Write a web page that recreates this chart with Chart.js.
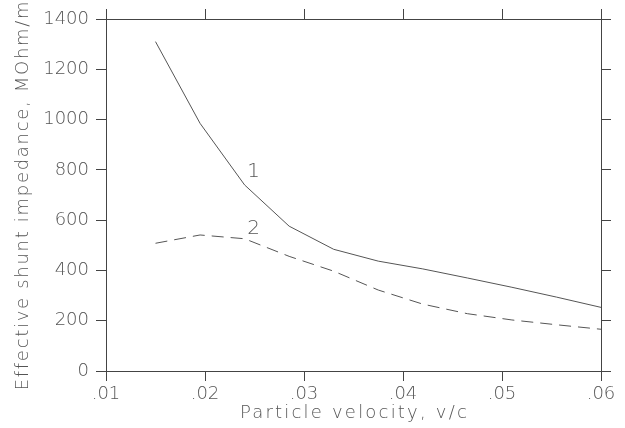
<!DOCTYPE html>
<html>
<head>
<meta charset="utf-8">
<script src="https://cdn.jsdelivr.net/npm/chart.js@4/dist/chart.umd.min.js"></script>
<style>
html,body{margin:0;padding:0;background:#fff;}
#wrap{width:625px;height:428px;position:relative;}
</style>
</head>
<body>
<div id="wrap"><canvas id="c" width="625" height="428"></canvas></div>
<script>
// Data
const velocity = [0.015, 0.0195, 0.024, 0.0285, 0.033, 0.0375, 0.042, 0.0465, 0.051, 0.0555, 0.06];
const curve1 = [1310, 985, 740, 576, 484, 437, 406, 370, 333, 294, 253];
const curve2 = [508, 541, 526, 456, 397, 322, 266, 228, 203, 184, 166];
const curveLabels = ['1', '2'];
const labelX = [0.0249, 0.0249];
const labelY = [792, 564];
const xTicks = [0.01, 0.02, 0.03, 0.04, 0.05, 0.06];
const yTicks = [0, 200, 400, 600, 800, 1000, 1200, 1400];
const xTitle = 'Particle velocity, v/c';
const yTitle = 'Effective shunt impedance, MOhm/m';

const FONT = '"DejaVu Sans", sans-serif';
const TXT = '#555';
const AX = '#444';

function fmtX(v){ return ('' + Math.round(v*100)/100).replace(/^0/, ''); }

const labelPlugin = {
  id: 'curveLabels',
  afterDraw(chart){
    const {ctx, scales, chartArea} = chart;
    ctx.save();
    ctx.fillStyle = TXT;
    ctx.font = '300 20px ' + FONT;
    ctx.textAlign = 'center';
    ctx.textBaseline = 'middle';
    curveLabels.forEach((t,i)=>{
      ctx.fillText(t, scales.x.getPixelForValue(labelX[i]), scales.y.getPixelForValue(labelY[i]));
    });
    // axis titles with wide letter spacing like the reference
    ctx.font = '300 18px ' + FONT;
    ctx.textBaseline = 'alphabetic';
    ctx.letterSpacing = '2.2px';
    ctx.fillText(xTitle, (chartArea.left + chartArea.right)/2 + 1, 418);
    ctx.letterSpacing = '1.7px';
    ctx.translate(28, (chartArea.top + chartArea.bottom)/2);
    ctx.rotate(-Math.PI/2);
    ctx.fillText(yTitle, 0, 0);
    ctx.restore();
  }
};

const tickCommon = {
  drawOnChartArea: false,
  drawTicks: true,
  tickLength: 10,
  color: AX,
  lineWidth: 1
};

new Chart(document.getElementById('c'), {
  type: 'line',
  data: {
    datasets: [
      {data: velocity.map((v,i)=>({x:v, y:curve1[i]})), borderColor:'#555', borderWidth:1, pointRadius:0, tension:0, fill:false},
      {data: velocity.map((v,i)=>({x:v, y:curve2[i]})), borderColor:'#555', borderWidth:1, borderDash:[12,7], pointRadius:0, tension:0, fill:false}
    ]
  },
  options: {
    responsive: false,
    animation: false,
    events: [],
    layout: {padding: 0},
    plugins: {legend:{display:false}, tooltip:{enabled:false}},
    scales: {
      x: {
        type: 'linear', position: 'bottom', min: 0.01, max: 0.06,
        afterBuildTicks: s => { s.ticks = xTicks.map(v=>({value:v})); },
        afterFit: s => { s.height = 57; },
        grid: tickCommon,
        border: {color: AX, width: 1},
        ticks: {color: TXT, font:{family: FONT, size: 18, weight: '300'}, padding: 3, callback: v => fmtX(v), maxRotation: 0}
      },
      x2: {
        type: 'linear', position: 'top', min: 0.01, max: 0.06,
        afterBuildTicks: s => { s.ticks = xTicks.map(v=>({value:v})); },
        afterFit: s => { s.height = 19; },
        grid: tickCommon,
        border: {color: AX, width: 1},
        ticks: {display: false}
      },
      y: {
        type: 'linear', position: 'left', min: 0, max: 1400,
        afterBuildTicks: s => { s.ticks = yTicks.map(v=>({value:v})); },
        afterFit: s => { s.width = 106; },
        grid: tickCommon,
        border: {color: AX, width: 1},
        ticks: {color: TXT, font:{family: FONT, size: 18, weight: '300'}, padding: 7, callback: v => String(v)}
      },
      y2: {
        type: 'linear', position: 'right', min: 0, max: 1400,
        afterBuildTicks: s => { s.ticks = yTicks.map(v=>({value:v})); },
        afterFit: s => { s.width = 24; },
        grid: tickCommon,
        border: {color: AX, width: 1},
        ticks: {display: false}
      }
    }
  },
  plugins: [labelPlugin]
});
</script>
</body>
</html>
